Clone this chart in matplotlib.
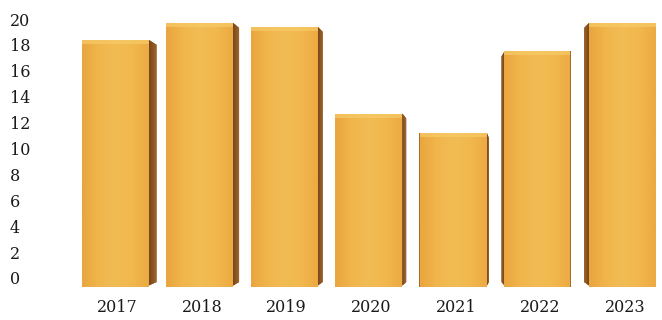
import numpy as np
import matplotlib
matplotlib.use("Agg")
import matplotlib.pyplot as plt
from matplotlib.patches import Rectangle, Polygon
from matplotlib.colors import LinearSegmentedColormap

years = ["2017", "2018", "2019", "2020", "2021", "2022", "2023"]
values = [18.4, 19.7, 19.4, 12.7, 11.2, 17.5, 19.7]
y_ticks = [0, 2, 4, 6, 8, 10, 12, 14, 16, 18, 20]

# depth of the dark side of each bar in pixels (+ right side, - left side)
side_px = [8, 6, 5, 4, 2, -3, -5]

W, H = 662, 320
fig = plt.figure(figsize=(W / 100, H / 100), dpi=100)
fig.patch.set_facecolor("white")

# axes placed in pixel terms
left, right, top, bottom = 70, 662, 0, 296
ax = fig.add_axes([left / W, 1 - bottom / H, (right - left) / W, (bottom - top) / H])

px_x = 84.6   # pixels per category step
px_y = 12.95  # pixels per value unit
x0_px, y0_px = 117.5, 278
ax.set_xlim((left - x0_px) / px_x, (right - x0_px) / px_x)
ax.set_ylim((y0_px - bottom) / px_y, (y0_px - top) / px_y)

base = -0.7
face_w = 67 / px_x
shift = -2.5 / px_x

face_cmap = LinearSegmentedColormap.from_list(
    "face", ["#EAA63F", "#F0B64C", "#F2BC54", "#F1B84E", "#ECAA42"])
side_cmap = LinearSegmentedColormap.from_list("side", ["#764519", "#A0662B"])

grad = np.linspace(0, 1, 64).reshape(1, -1)

for i, (v, s) in enumerate(zip(values, side_px)):
    xl = i + shift - face_w / 2
    xr = xl + face_w
    face = Rectangle((xl, base), face_w, v - base, facecolor="#F0B448",
                     edgecolor="none", zorder=2)
    ax.add_patch(face)
    im = ax.imshow(grad, cmap=face_cmap, aspect="auto",
                   extent=(xl, xr, base, v), zorder=3)
    im.set_clip_path(face)

    # light bevel along the top edge
    ax.add_patch(Rectangle((xl, v - 4 / px_y), face_w, 4 / px_y,
                           facecolor="#F7CB68", edgecolor="none", alpha=0.7,
                           zorder=4))

    # dark side
    dw = abs(s) / px_x
    dy = 5 / px_y
    if s > 0:
        pts = [(xr, base + dy * 0.3), (xr, v), (xr + dw, v - dy),
               (xr + dw, base + dy)]
        cm = side_cmap
    else:
        pts = [(xl, base + dy * 0.3), (xl, v), (xl - dw, v - dy),
               (xl - dw, base + dy)]
        cm = side_cmap.reversed()
    side = Polygon(pts, closed=True, facecolor="#7E4A1F", edgecolor="none",
                   zorder=2)
    ax.add_patch(side)
    xs = sorted([p[0] for p in pts])
    sim = ax.imshow(grad, cmap=cm, aspect="auto",
                    extent=(xs[0], xs[-1], base, v), zorder=3)
    sim.set_clip_path(side)

    # thin dark line on the opposite edge of the narrow middle bars
    if abs(s) <= 3:
        xe = xl if s > 0 else xr
        ax.add_patch(Rectangle((xe - 1.2 / px_x, base), 1.2 / px_x, v - base,
                               facecolor="#A8692C", edgecolor="none", zorder=4))

font = "DejaVu Serif"
ax.set_xticks(range(len(years)))
ax.set_xticklabels(years, fontsize=11.5, family=font, color="#1a1a1a")
ax.set_yticks(y_ticks)
ax.set_yticklabels([str(t) for t in y_ticks], fontsize=11.5, family=font,
                   color="#1a1a1a", ha="left")
ax.tick_params(axis="y", length=0, pad=(left - 10) * 0.72)
ax.tick_params(axis="x", length=0, pad=2)
for sp in ax.spines.values():
    sp.set_visible(False)
ax.set_facecolor("none")

fig.savefig("out.png", dpi=100, facecolor="white")
